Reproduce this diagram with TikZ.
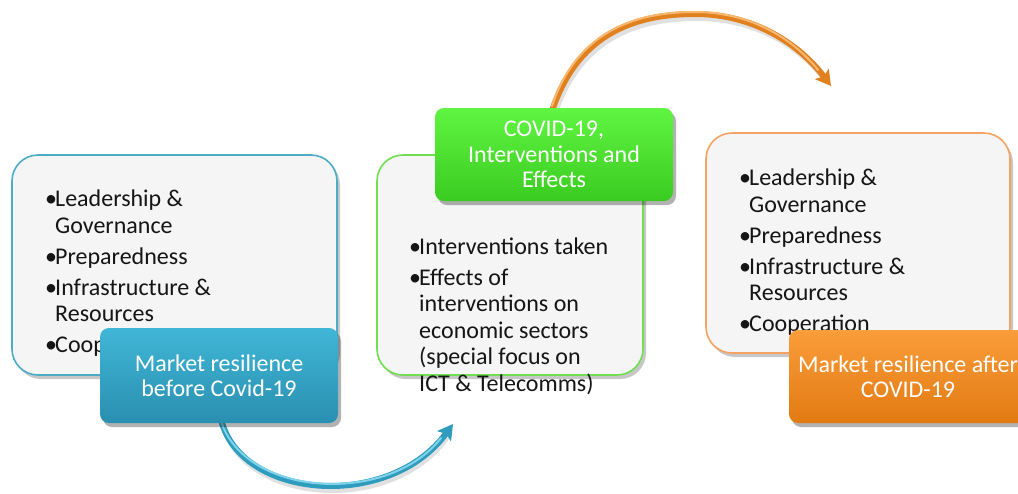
\documentclass[tikz,border=0pt]{standalone}
\usepackage{fontspec}
\setmainfont{Carlito}
\usetikzlibrary{shadows,arrows.meta}

\definecolor{tealedge}{HTML}{4BACC6}
\definecolor{tealtop}{HTML}{40B6D6}
\definecolor{tealbot}{HTML}{2A8FB0}
\definecolor{tealarc}{HTML}{2F9CBE}
\definecolor{tealhi}{HTML}{7FD3EA}
\definecolor{greenedge}{HTML}{70DE50}
\definecolor{greentop}{HTML}{60F542}
\definecolor{greenbot}{HTML}{3ACB20}
\definecolor{orangeedge}{HTML}{F4A460}
\definecolor{orangetop}{HTML}{FA9D3A}
\definecolor{orangebot}{HTML}{E27A12}
\definecolor{orangearc}{HTML}{E0801E}
\definecolor{orangehi}{HTML}{F8B870}
\definecolor{panelfill}{HTML}{F5F5F5}
\definecolor{bodytext}{HTML}{151515}

\tikzset{
  panel/.style={rounded corners=26pt, fill=panelfill, line width=1.6pt,
    inner sep=0pt, drop shadow={shadow xshift=3pt, shadow yshift=-4pt,
    opacity=0.22, fill=black}},
  label box/.style={rounded corners=9pt, inner sep=0pt, draw=none,
    minimum width=238pt, text=white, align=center,
    font=\fontsize{24}{25.5}\selectfont,
    drop shadow={shadow xshift=3pt, shadow yshift=-4pt, opacity=0.3, fill=black}},
  bullets/.style={anchor=north west, inner sep=0pt, align=left, text=bodytext,
    font=\fontsize{24}{26.5}\selectfont},
  arcline/.style={line width=6pt, line cap=round,
    -{Stealth[length=15pt,width=17pt,inset=3pt]}},
  archi/.style={line width=2pt, line cap=round},
}
\newcommand{\bul}{\makebox[10pt][l]{\textbullet}}
\newcommand{\cont}{\hspace*{10pt}}

\begin{document}
\begin{tikzpicture}[x=1pt,y=-1pt]
\useasboundingbox (0,0) rectangle (1018,493);
\clip (0,0) rectangle (1018,493);

% large content panels
\node[panel, draw=tealedge, minimum width=325pt, minimum height=220pt] (before) at (174.5,265) {};
\node[panel, draw=greenedge, minimum width=266pt, minimum height=220pt] (during) at (510,265) {};
\node[panel, draw=orangeedge, minimum width=304pt, minimum height=220pt] (after) at (858,243) {};

% free ends of the connecting arcs
\coordinate (tealtip) at (453,424);
\coordinate (orangetip) at (831,86);
\coordinate (orangetop) at (695,14);

% bullet lists
\node[bullets] (beforelist) at (45,190) {%
  \bul Leadership \&\\ \cont Governance\\[4.5pt]
  \bul Preparedness\\[4.5pt]
  \bul Infrastructure \&\\ \cont Resources\\[4.5pt]
  \bul Cooperation};
\node[bullets] (duringlist) at (409,238) {%
  \bul Interventions taken\\[4pt]
  \bul Effects of\\ \cont interventions on\\ \cont economic sectors\\
  \cont (special focus on\\ \cont ICT \& Telecomms)};
\node[bullets] (afterlist) at (739,169) {%
  \bul Leadership \&\\ \cont Governance\\[4.5pt]
  \bul Preparedness\\[4.5pt]
  \bul Infrastructure \&\\ \cont Resources\\[4.5pt]
  \bul Cooperation};

% orange stage label (lies above the right panel)
\node[label box, minimum height=93pt, top color=orangetop, bottom color=orangebot] (mrafter) at (908,376.5)
  {Market resilience after\\ COVID-19};

% arcs between stages, with a soft shadow and a highlight stripe
\draw[line width=6pt, black, opacity=0.12, shift={(2,4)}]
  (222,423) .. controls (245,500) and (390,510) .. (445,433);
\draw[arcline, tealarc]
  (222,423) .. controls (245,500) and (390,510) .. (tealtip);
\draw[archi, tealhi]
  (221,421) .. controls (245,497) and (388,506) .. (441,438);

\draw[line width=6pt, black, opacity=0.12, shift={(2,4)}]
  (553,108) .. controls (580,30) and (640,14) .. (695,14)
  .. controls (755,14) and (798,43) .. (822,74);
\draw[arcline, orangearc]
  (553,108) .. controls (580,30) and (640,14) .. (orangetop)
  .. controls (755,14) and (800,45) .. (orangetip);
\draw[archi, orangehi]
  (552,106) .. controls (578,28) and (640,12) .. (695,12)
  .. controls (754,12) and (796,42) .. (818,70);

% stage labels drawn over the arc starts
\node[label box, minimum height=95pt, top color=tealtop, bottom color=tealbot] (mrbefore) at (219,375.5)
  {Market resilience\\ before Covid-19};
\node[label box, minimum height=93pt, top color=greentop, bottom color=greenbot] (covid) at (554,154.5)
  {COVID-19,\\ Interventions and\\ Effects};
\end{tikzpicture}
\end{document}
